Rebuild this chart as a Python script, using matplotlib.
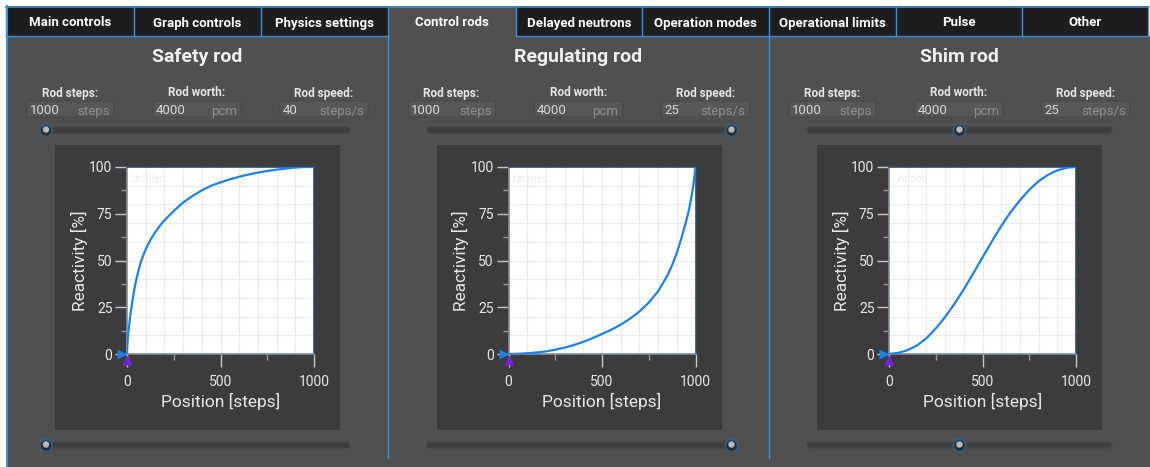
import numpy as np
import matplotlib
matplotlib.use('Agg')
import matplotlib.pyplot as plt
from matplotlib.patches import Rectangle, FancyBboxPatch, Circle

plt.rcParams['font.family'] = ['Roboto', 'DejaVu Sans']

# ---------------- data ----------------
tabs = ["Main controls", "Graph controls", "Physics settings", "Control rods",
        "Delayed neutrons", "Operation modes", "Operational limits", "Pulse", "Other"]
active_tab = "Control rods"

rod_names = ["Safety rod", "Regulating rod", "Shim rod"]
rod_steps = [1000, 1000, 1000]
rod_worth = [4000, 4000, 4000]
rod_speed = [40, 25, 25]
slider_pos = [0, 1000, 500]          # rod position in steps (slider handles)

safety_pos = [0, 2, 5, 10, 15, 20, 30, 40, 50, 60, 75, 90, 100, 125, 150, 175, 200, 250,
              300, 350, 400, 450, 500, 550, 600, 650, 700, 750, 800, 850, 900, 950, 1000]
safety_react = [0, 5, 9, 14, 18.5, 22.5, 29, 35, 40, 44, 49.5, 53.5, 56, 61, 65, 68.5, 71.5, 76.5,
                81, 84.5, 87.5, 90, 91.8, 93.4, 94.8, 96, 97, 97.9, 98.6, 99.2, 99.7, 100, 100]

reg_pos = [0, 50, 100, 150, 200, 250, 300, 350, 400, 450, 500, 550, 600, 650, 700, 750, 800,
           850, 875, 900, 925, 950, 965, 980, 990, 1000]
reg_react = [0, 0.1, 0.4, 0.8, 1.4, 2.3, 3.4, 4.8, 6.5, 8.5, 10.7, 13, 15.7, 18.9, 22.7, 27.5, 33.5,
             42, 47.5, 54, 62, 71, 77, 85, 91.5, 100]

shim_pos = [0, 50, 100, 150, 200, 250, 300, 350, 400, 450, 500, 550, 600, 650, 700, 750, 800,
            850, 900, 950, 1000]
shim_react = [0, 0.6, 2.1, 4.6, 8.4, 13.6, 19.8, 26.8, 34.6, 43, 51.6, 60.2, 68.4, 75.8, 82.2,
              87.8, 92.4, 95.8, 98.2, 99.6, 100]

curves = [(safety_pos, safety_react), (reg_pos, reg_react), (shim_pos, shim_react)]

x_ticks = [0, 500, 1000]
y_ticks = [0, 25, 50, 75, 100]

# ---------------- style ----------------
W, H = 1150, 467
BLUE = '#3a8fd8'
PANEL = '#505050'
TABBG = '#1d1d1d'
DARKBOX = '#3c3c3c'
TXT = '#e8e8e8'
CURVE = '#1a82f0'

fig = plt.figure(figsize=(W / 100, H / 100), dpi=100)
fig.patch.set_facecolor('white')
ui = fig.add_axes([0, 0, 1, 1])
ui.set_xlim(0, W)
ui.set_ylim(H, 0)
ui.axis('off')

# panel and tab row
ui.add_patch(Rectangle((6, 36), W - 6, H - 36, fc=PANEL, ec='none'))
ui.add_patch(Rectangle((6, 6), 1142, 30, fc=TABBG, ec='none'))

tab_edges = [6, 134, 261, 388, 516, 642, 769, 896, 1022, 1148]
for i, name in enumerate(tabs):
    x0, x1 = tab_edges[i], tab_edges[i + 1]
    if name == active_tab:
        ui.add_patch(Rectangle((x0, 6), x1 - x0, 31, fc=PANEL, ec='none', zorder=2))
    else:
        ui.plot([x0, x1], [36, 36], color=BLUE, lw=1, zorder=3)
    ui.text((x0 + x1) / 2, 21.5, name, color='white', fontsize=9.5, fontweight='bold',
            ha='center', va='center_baseline', zorder=4)
for xe in tab_edges:
    ui.plot([xe, xe], [6, 36], color=BLUE, lw=1, zorder=3)
ui.plot([6, 1148], [6.5, 6.5], color=BLUE, lw=1.2, zorder=3)
ui.plot([6.5, 6.5], [6, H], color=BLUE, lw=1.5, zorder=3)
for xs in [388, 769]:
    ui.plot([xs, xs], [36, 458], color=BLUE, lw=1, zorder=3)

centers = [197, 578.5, 959]


def slider(c, y, pos):
    x0, x1 = c - 152, c + 153
    ui.add_patch(FancyBboxPatch((x0, y - 3), x1 - x0, 6, boxstyle='round,pad=0,rounding_size=3',
                                fc='#3e3e3e', ec='#474747', lw=0.8, zorder=3))
    hx = x0 + (x1 - x0) * pos / 1000.0 + (1 if pos == 0 else 0)
    ui.add_patch(Circle((hx, y), 7, fc='#2f5f88', ec='none', zorder=4))
    ui.add_patch(Circle((hx, y + 0.5), 5.2, fc='#2b2b2b', ec='none', zorder=5))
    ui.add_patch(Circle((hx, y - 0.5), 3.2, fc='#b9b9b9', ec='none', zorder=6))


for i, c in enumerate(centers):
    ui.text(c, 55.5, rod_names[i], color='#f0f0f0', fontsize=14, fontweight='bold',
            ha='center', va='center_baseline')
    labels = ["Rod steps:", "Rod worth:", "Rod speed:"]
    vals = [rod_steps[i], rod_worth[i], rod_speed[i]]
    units = ["steps", "pcm", "steps/s"]
    boxes = [(c - 170, c - 83), (c - 44, c + 44), (c + 83, c + 171)]
    for j, dx in enumerate([-127, 0, 127]):
        ui.text(c + dx, 91.5, labels[j], color='#e6e6e6', fontsize=8.5, fontweight='bold',
                ha='center', va='center_baseline')
        bx0, bx1 = boxes[j]
        ui.add_patch(FancyBboxPatch((bx0, 101), bx1 - bx0, 16, boxstyle='round,pad=0,rounding_size=2',
                                    fc='#575757', ec='#4a4a4a', lw=0.8, zorder=2))
        ui.text(bx0 + 2.5, 109.5, str(vals[j]), color='#d8d8d8', fontsize=9.5,
                ha='left', va='center_baseline', zorder=3)
        ui.text(bx1 - 4, 109.5, units[j], color='#8c8c8c', fontsize=9.5,
                ha='right', va='center_baseline', zorder=3)
    slider(c, 130, slider_pos[i])
    slider(c, 445, slider_pos[i])
    ui.add_patch(Rectangle((c - 142, 145), 285, 285, fc=DARKBOX, ec='none', zorder=1))

    # chart
    ax = fig.add_axes([(c - 70) / W, (H - 354) / H, 187 / W, 187 / H])
    ax.set_facecolor('white')
    ax.set_xlim(0, 1000)
    ax.set_ylim(0, 100)
    ax.vlines(np.arange(100, 1000, 100), 0, 100, color='#ebebeb', lw=0.9, zorder=0)
    ax.hlines(np.arange(10, 100, 10), 0, 1000, color='#ebebeb', lw=0.9, zorder=0)
    px, py = curves[i]
    ax.plot(px, py, color=CURVE, lw=1.6, zorder=3, solid_capstyle='round', solid_joinstyle='round')
    ax.plot([-26], [0], marker='>', color='#1c7ff0', ms=7, clip_on=False, zorder=5, mec='none')
    ax.plot([0], [-3.2], marker='^', color='#7a1fe8', ms=7, clip_on=False, zorder=5, mec='none')
    ax.text(0.02, 0.96, "Untitled", transform=ax.transAxes, color='#ececec', fontsize=7.5,
            ha='left', va='top')
    ax.set_xticks(x_ticks)
    ax.set_xticks([250, 750], minor=True)
    ax.set_yticks(y_ticks)
    ax.set_yticks([12.5, 37.5, 62.5, 87.5], minor=True)
    ax.tick_params(which='major', length=9, width=1, color='#c8c8c8', labelcolor=TXT, labelsize=10)
    ax.tick_params(which='minor', length=4.5, width=1, color='#9a9a9a')
    ax.tick_params(axis='x', which='major', pad=6)
    ax.tick_params(axis='y', which='major', pad=1.5)
    for sname, sp in ax.spines.items():
        sp.set_color('#7d8ea0' if sname in ('left', 'bottom') else '#2c4a6e')
        sp.set_linewidth(1.2)
    ax.set_xlabel("Position [steps]", color=TXT, fontsize=12.5, labelpad=3)
    ax.set_ylabel("Reactivity [%]", color=TXT, fontsize=12.5, labelpad=1)

fig.savefig('out.png', dpi=100, facecolor=fig.get_facecolor())
